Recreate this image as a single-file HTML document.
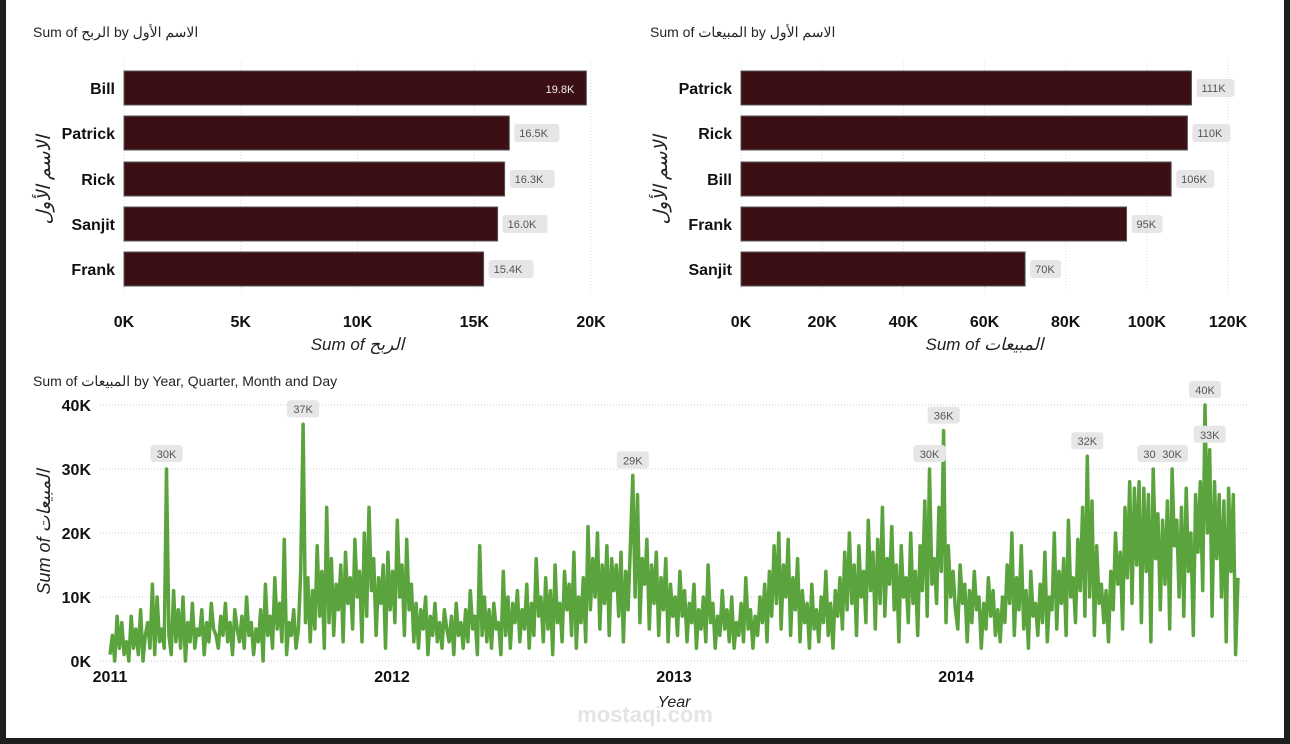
<!DOCTYPE html>
<html><head><meta charset="utf-8">
<style>
html,body{margin:0;padding:0;width:1290px;height:744px;overflow:hidden;background:#1e1e1e;font-family:"Liberation Sans","Noto Sans CJK SC",sans-serif;}
#panel{position:absolute;left:6px;top:0;width:1278px;height:738px;background:#fff;}
svg{position:absolute;left:0;top:0;}
</style></head>
<body>
<div id="panel"></div>
<svg id="chart" width="1290" height="744"></svg>
<script>
const profitNames = ["Bill","Patrick","Rick","Sanjit","Frank"];
const profitValues = [19.8,16.5,16.3,16.0,15.4];
const profitTicks = [0,5,10,15,20];
const salesNames = ["Patrick","Rick","Bill","Frank","Sanjit"];
const salesValues = [111,110,106,95,70];
const salesTicks = [0,20,40,60,80,100,120];
const yearLabels = ["2011","2012","2013","2014"];
const lineTicks = [0,10,20,30,40];
// sales in K, ~120 samples per year (approximate readings)
const salesSeries = [
1,4,0,7,2,6,1,3,0,7,2,5,1,8,0,4,6,2,12,1,10,3,5,2,30,4,1,11,3,8,2,10,0,6,3,9,2,5,4,8,
1,6,3,9,5,4,2,7,4,9,3,6,1,8,5,3,7,2,10,4,6,1,5,3,8,0,12,4,7,2,13,5,9,3,19,1,6,4,8,2,
5,14,37,6,13,3,11,5,18,7,14,2,24,6,16,4,12,8,15,3,17,9,13,5,19,10,14,3,20,7,24,11,16,4,13,9,15,2,17,8,
14,6,22,10,15,4,19,8,12,3,9,2,8,5,10,1,7,4,9,3,6,2,8,5,3,7,1,9,4,6,2,8,3,11,5,7,1,18,4,10,
3,8,2,9,5,6,1,14,4,10,2,9,6,11,3,8,5,12,2,9,4,16,7,10,3,13,5,11,1,15,6,9,3,14,8,12,4,17,2,10,
6,13,3,21,8,16,10,20,5,15,9,18,4,16,11,15,7,17,3,14,8,18,29,10,26,6,16,12,19,5,15,9,17,4,13,8,16,3,12,7,
10,4,14,7,11,3,9,6,12,2,8,5,10,3,15,6,9,2,7,4,11,5,8,3,10,2,6,4,9,3,13,5,8,2,7,4,10,6,12,3,
14,7,18,9,20,5,15,10,19,4,13,8,16,3,11,6,9,2,12,5,8,3,10,6,14,4,9,2,11,7,13,5,17,8,20,9,15,4,18,10,
14,6,22,11,17,5,19,9,24,7,16,12,21,8,15,3,18,10,13,6,20,9,14,4,18,11,25,7,30,12,16,9,24,14,36,6,18,10,14,8,
5,15,9,12,3,11,6,14,8,10,2,9,5,13,7,11,4,8,3,10,6,15,9,20,4,13,8,18,5,11,2,14,7,9,4,12,6,17,3,10,
8,20,5,14,9,16,4,22,10,13,6,19,11,24,7,32,10,25,4,18,9,12,6,11,3,14,8,20,12,17,5,24,13,28,9,27,15,28,6,27,
14,26,3,30,16,23,8,22,12,25,5,30,18,22,10,24,7,27,14,20,4,26,17,28,11,40,20,33,7,28,16,26,10,25,3,27,14,26,1,13
];
const NS="http://www.w3.org/2000/svg";
const svg=document.getElementById('chart');
function mk(tag,attrs,parent){const e=document.createElementNS(NS,tag);for(const k in attrs)e.setAttribute(k,attrs[k]);(parent||svg).appendChild(e);return e;}
function txt(s,attrs,parent){const e=mk('text',attrs,parent);e.textContent=s;return e;}

function barChart(o){
  const g=mk('g',{});
  
  
  const t=txt(o.title,{x:o.titleX,y:37,'font-size':14,fill:'#252423'},g);
  
  
  const xs=v=>o.x0+(v/o.max)*(o.x1-o.x0);
  o.ticks.forEach(tv=>{
    mk('line',{x1:xs(tv),x2:xs(tv),y1:62,y2:292,stroke:'#ddd','stroke-dasharray':'1,2'},g);
    const tl=txt(tv+'K',{x:xs(tv),y:327,'font-size':16,'font-weight':'bold','text-anchor':'middle',fill:'#111'},g);
    
    
  });
  const tops=[71,116,162,207,252];
  o.names.forEach((n,i)=>{
    const y=tops[i],h=34,w=xs(o.vals[i])-o.x0;
    const r=mk('rect',{x:o.x0,y:y,width:w,height:h,fill:'#3b0f13',stroke:'#555','stroke-width':1},g);
    
    
    const cl=txt(n,{x:o.x0-9,y:y+23,'font-size':16,'font-weight':'bold','text-anchor':'end',fill:'#111'},g);
    
    
    const lab=(o.decimals?o.vals[i].toFixed(1):o.vals[i])+'K';
    if(o.inside&&i===0){
      const vl=txt(lab,{x:o.x0+w-12,y:y+22,'font-size':11,'text-anchor':'end',fill:'#eee'},g);
      
      
    } else {
      const bw=lab.length*7+10;
      mk('rect',{x:o.x0+w+5,y:y+8,width:bw,height:18,rx:3,fill:'#e6e6e6'},g);
      const vl=txt(lab,{x:o.x0+w+10,y:y+21,'font-size':11,fill:'#555'},g);
      
      
    }
  });
  const at=txt(o.axisTitle,{x:(o.x0+o.x1)/2,y:350,'font-size':17,'font-style':'italic','text-anchor':'middle',fill:'#222'},g);
  
  
  const yt=txt('الاسم الأول',{x:0,y:0,'font-size':19,'font-style':'italic','text-anchor':'middle',fill:'#222',transform:`translate(${o.x0-74},180) rotate(-90)`},g);
  
  
}
barChart({name:'profit-by-name-chart',title:'Sum of الربح by الاسم الأول',titleX:33,x0:124,x1:591,max:20,ticks:profitTicks,names:profitNames,vals:profitValues,axisTitle:'Sum of الربح',inside:true,decimals:true});
barChart({name:'sales-by-name-chart',title:'Sum of المبيعات by الاسم الأول',titleX:650,x0:741,x1:1228,max:120,ticks:salesTicks,names:salesNames,vals:salesValues,axisTitle:'Sum of المبيعات',inside:false,decimals:false});

// line chart
const lg=mk('g',{});


const lt=txt('Sum of المبيعات by Year, Quarter, Month and Day',{x:33,y:386,'font-size':14,fill:'#252423'},lg);


const X0=110,X1=1238,Y0=661,Y40=405;
const ly=v=>Y0-(v/40)*(Y0-Y40);
const lx=i=>X0+i/(salesSeries.length-1)*(X1-X0);
lineTicks.forEach(tv=>{
  mk('line',{x1:100,x2:1248,y1:ly(tv),y2:ly(tv),stroke:'#ccc','stroke-dasharray':'1,2'},lg);
  const tl=txt(tv+'K',{x:91,y:ly(tv)+6,'font-size':16,'font-weight':'bold','text-anchor':'end',fill:'#111'},lg);
  
  
});
yearLabels.forEach((yl,i)=>{
  const t=txt(yl,{x:X0+i*282,y:682,'font-size':16,'font-weight':'bold','text-anchor':'middle',fill:'#111'},lg);
  
  
});
const wm=txt('mostaqi.com',{x:645,y:722,'font-size':22,'font-weight':'bold','text-anchor':'middle',fill:'#e4e4e4'},lg);


const d=salesSeries.map((v,i)=>(i?'L':'M')+lx(i).toFixed(1)+','+ly(v).toFixed(1)).join(' ');
const p=mk('path',{d:d,fill:'none',stroke:'#5aa33d','stroke-width':3.5,'stroke-linejoin':'round'},lg);


// peak labels
salesSeries.forEach((v,i)=>{
  if(v>=29){
    const s=v+'K';
    mk('rect',{x:lx(i)-16,y:ly(v)-24,width:32,height:17,rx:3,fill:'#e6e6e6'},lg);
    const t=txt(s,{x:lx(i),y:ly(v)-11,'font-size':11,'text-anchor':'middle',fill:'#555'},lg);
    
    
  }
});
const xt=txt('Year',{x:674,y:707,'font-size':16,'font-style':'italic','text-anchor':'middle',fill:'#222'},lg);


const yt2=txt('Sum of المبيعات',{x:0,y:0,'font-size':18,'font-style':'italic','text-anchor':'middle',fill:'#222',transform:'translate(50,532) rotate(-90)'},lg);


</script>
</body></html>
